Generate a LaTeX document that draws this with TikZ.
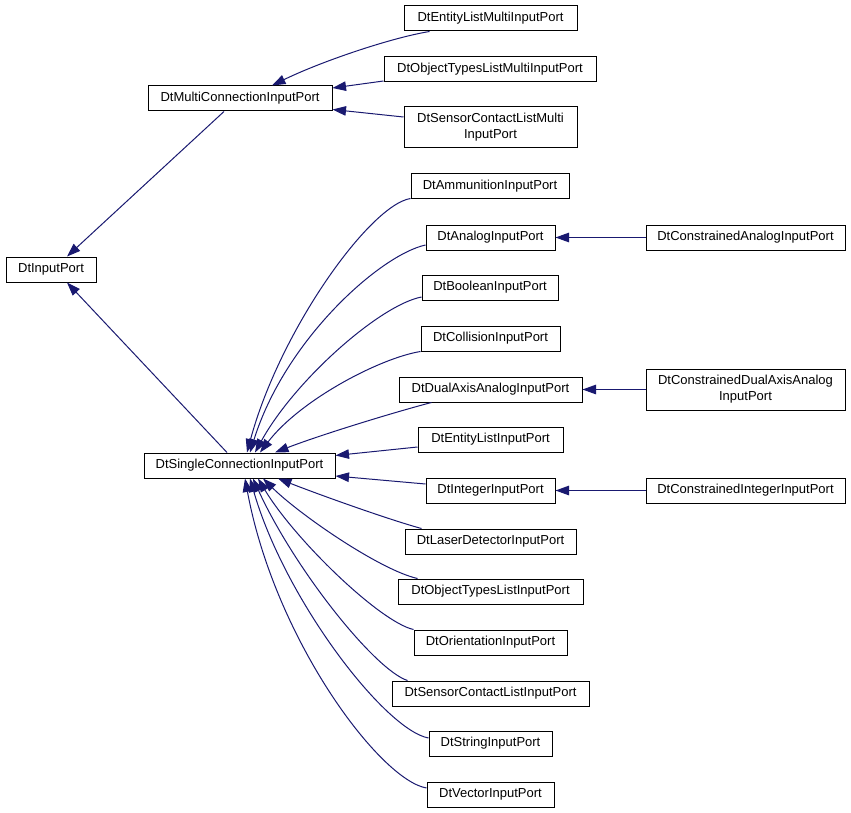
\documentclass[tikz,border=0pt]{standalone}
\usepackage{fontspec}
\setmainfont{Liberation Sans}
\usetikzlibrary{arrows.meta}
\definecolor{edgecol}{HTML}{191970}
\begin{document}
\begin{tikzpicture}[x=1pt,y=-1pt,
  cls/.style={draw=black,fill=white,line width=1pt,inner sep=0pt,minimum height=25pt,align=center,font=\fontsize{13}{16}\selectfont},
  inh/.style={draw=edgecol,line width=1pt,-{Triangle[length=13.5pt,width=9.5pt]}}]
\useasboundingbox (0,0) rectangle (851,813);
% nodes
\node[cls,minimum width=90pt] (inp) at (51,269.5) {DtInputPort};
\node[cls,minimum width=184pt] (multi) at (240,98.5) {DtMultiConnectionInputPort};
\node[cls,minimum width=173pt] (entm) at (490.5,18.5) {DtEntityListMultiInputPort};
\node[cls,minimum width=212pt] (objm) at (490,69.5) {DtObjectTypesListMultiInputPort};
\node[cls,minimum width=173pt,minimum height=41pt] (senm) at (490.5,127.5) {DtSensorContactListMulti\\InputPort};
\node[cls,minimum width=191pt] (single) at (239.5,465.5) {DtSingleConnectionInputPort};
\node[cls,minimum width=158pt] (ammo) at (490,186.5) {DtAmmunitionInputPort};
\node[cls,minimum width=129pt] (analog) at (490.5,237.5) {DtAnalogInputPort};
\node[cls,minimum width=136pt] (bool) at (490,287.5) {DtBooleanInputPort};
\node[cls,minimum width=139pt] (coll) at (490.5,338.5) {DtCollisionInputPort};
\node[cls,minimum width=183pt] (dual) at (490.5,389.5) {DtDualAxisAnalogInputPort};
\node[cls,minimum width=145pt] (ent) at (490.5,439.5) {DtEntityListInputPort};
\node[cls,minimum width=129pt] (int) at (490.5,490.5) {DtIntegerInputPort};
\node[cls,minimum width=171pt] (laser) at (490.5,541.5) {DtLaserDetectorInputPort};
\node[cls,minimum width=185pt] (obj) at (490.5,591.5) {DtObjectTypesListInputPort};
\node[cls,minimum width=153pt] (orient) at (490.5,642.5) {DtOrientationInputPort};
\node[cls,minimum width=197pt] (sens) at (490.5,693.5) {DtSensorContactListInputPort};
\node[cls,minimum width=123pt] (str) at (490.5,743.5) {DtStringInputPort};
\node[cls,minimum width=127pt] (vec) at (490.5,794.5) {DtVectorInputPort};
\node[cls,minimum width=199pt] (cana) at (745.5,237.5) {DtConstrainedAnalogInputPort};
\node[cls,minimum width=199pt,minimum height=41pt] (cdual) at (745.5,389.5) {DtConstrainedDualAxisAnalog\\InputPort};
\node[cls,minimum width=199pt] (cint) at (745.5,490.5) {DtConstrainedIntegerInputPort};
% edges to DtInputPort
\draw[inh] ([xshift=-16pt]multi.south) -- ([xshift=16pt]inp.north);
\draw[inh] ([xshift=-12.5pt]single.north) -- ([xshift=16pt]inp.south);
% edges to DtMultiConnectionInputPort
\draw[inh] ([xshift=26pt]entm.south west) .. controls (390,38) and (320,62) .. ([xshift=32pt]multi.north);
\draw[inh] ([yshift=-11.5pt]objm.west) -- ([yshift=10.5pt]multi.east);
\draw[inh] ([yshift=10.5pt]senm.west) -- ([yshift=-11pt]multi.east);
% edges to DtSingleConnectionInputPort (upper)
\draw[inh] ([yshift=1pt]ammo.south west) .. controls (370,205) and (280,330) .. ([xshift=7.5pt]single.north);
\draw[inh] ([yshift=-7.5pt]analog.west) .. controls (380,255) and (285,340) .. ([xshift=10.5pt]single.north);
\draw[inh] ([yshift=-9.5pt]bool.west) .. controls (380,305) and (295,380) .. ([xshift=15.5pt]single.north);
\draw[inh] (coll.south west) .. controls (380,358) and (300,400) .. ([xshift=20.5pt]single.north);
\draw[inh] ([xshift=33pt]dual.south west) .. controls (395,412) and (320,435) .. ([xshift=35.5pt]single.north);
\draw[inh] ([yshift=-7.5pt]ent.west) -- ([yshift=10pt]single.east);
% lower
\draw[inh] ([yshift=6.5pt]int.west) -- ([yshift=-10.5pt]single.east);
\draw[inh] ([xshift=17pt]laser.north west) .. controls (390,520) and (320,495) .. ([xshift=38.5pt]single.south);
\draw[inh] ([xshift=20pt]obj.north west) .. controls (380,570) and (300,515) .. ([xshift=23.5pt]single.south);
\draw[inh] (orient.north west) .. controls (380,622) and (295,540) .. ([xshift=18.5pt]single.south);
\draw[inh] ([xshift=16pt]sens.north west) .. controls (375,670) and (295,570) .. ([xshift=13.5pt]single.south);
\draw[inh] ([yshift=5.5pt]str.west) .. controls (385,730) and (285,600) .. ([xshift=10.5pt]single.south);
\draw[inh] ([yshift=6.5pt]vec.west) .. controls (380,780) and (275,640) .. ([xshift=5.5pt]single.south);
% right column
\draw[inh] (cana.west) -- (analog.east);
\draw[inh] (cdual.west) -- (dual.east);
\draw[inh] (cint.west) -- (int.east);
\end{tikzpicture}
\end{document}
